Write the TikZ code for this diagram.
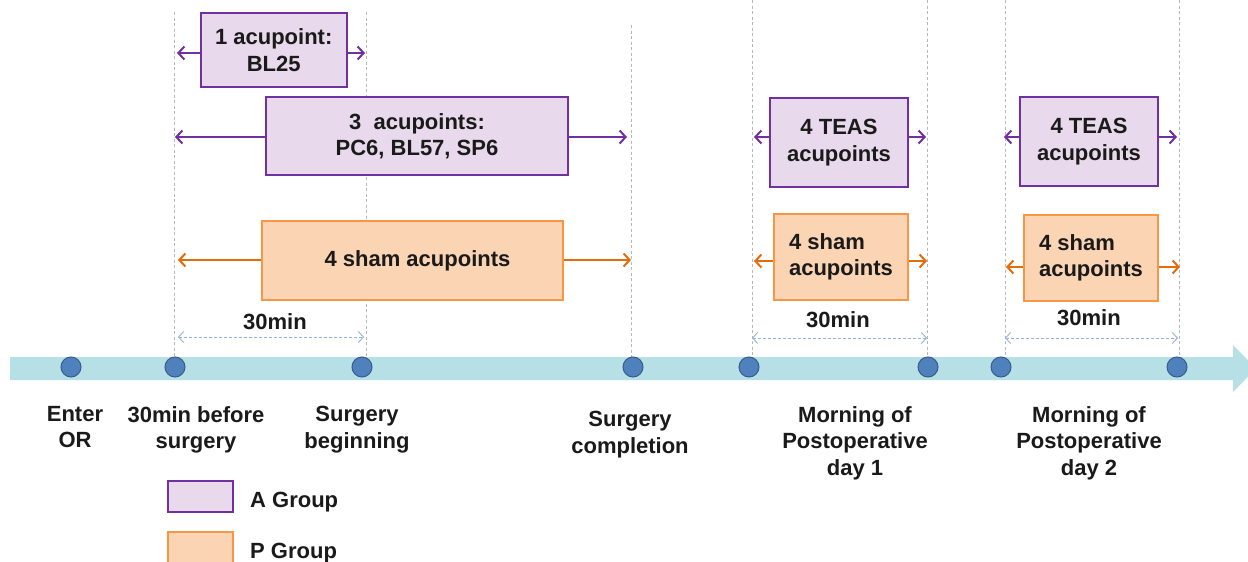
\documentclass[tikz,border=0pt]{standalone}
\usepackage{fontspec}
\setmainfont{Liberation Sans}
\usetikzlibrary{arrows.meta}
\definecolor{txt}{HTML}{1A1A1A}
\definecolor{purp}{HTML}{7030A0}
\definecolor{lav}{HTML}{E8DAEC}
\definecolor{orng}{HTML}{F79646}
\definecolor{orar}{HTML}{E46C0A}
\definecolor{peach}{HTML}{FBD4B4}
\definecolor{band}{HTML}{B6E0E6}
\definecolor{dotb}{HTML}{4F81BD}
\definecolor{dotd}{HTML}{385D8A}
\definecolor{durc}{HTML}{95B3D7}
\definecolor{vline}{HTML}{B8B8B8}
\tikzset{
  lbl/.style={font=\fontsize{22}{26.5}\selectfont\bfseries, text=txt, align=center, inner sep=0pt},
  abox/.style={lbl, draw=purp, fill=lav, line width=2.2pt},
  pbox/.style={lbl, draw=orng, fill=peach, line width=2.2pt},
  aarr/.style={draw=purp, line width=2pt, -{Straight Barb[length=6pt,width=13pt]}},
  parr/.style={draw=orar, line width=2pt, -{Straight Barb[length=6pt,width=13pt]}},
  durarr/.style={draw=durc, line width=0.9pt, dash pattern=on 3pt off 2pt, {Straight Barb[length=5pt,width=11pt]}-{Straight Barb[length=5pt,width=11pt]}},
  vl/.style={draw=vline, line width=0.9pt, dash pattern=on 3pt off 2.5pt},
  tdot/.style={circle, fill=dotb, draw=dotd, line width=1pt, minimum size=20pt, inner sep=0pt},
}
\begin{document}
\begin{tikzpicture}[x=1pt,y=-1pt]
\useasboundingbox (0,0) rectangle (1248,562);
\fill[white] (0,0) rectangle (1248,562);

% vertical dashed guide lines
\foreach \n/\x/\t in {v1/174/12, v2/366/12, v3/631/25, v4/752/0, v5/927/0, v6/1005/0, v7/1179/0}{
  \coordinate (\n t) at (\x,\t);
  \coordinate (\n b) at (\x,357);
  \draw[vl] (\n t) -- (\n b);
}

% timeline band
\fill[band] (10,357) -- (1233,357) -- (1233,345) -- (1256,368.5) -- (1233,392) -- (1233,380) -- (10,380) -- cycle;

% timeline dots
\foreach \n/\x in {d1/71, d2/175, d3/362, d4/633, d5/749, d6/928, d7/1001, d8/1177}{
  \node[tdot] (\n) at (\x,367) {};
}

% A group boxes
\node[abox, minimum width=146pt, minimum height=74pt] (b1) at (273.7,50) {1 acupoint:\\BL25};
\node[abox, minimum width=302pt, minimum height=78pt] (b3) at (417,136) {3\ \ acupoints:\\PC6, BL57, SP6};
\node[abox, minimum width=138pt, minimum height=89pt] (t1) at (839,142.5) {4 TEAS\\acupoints};
\node[abox, minimum width=138pt, minimum height=89pt] (t2) at (1089,141.5) {4 TEAS\\acupoints};

% P group boxes
\node[pbox, minimum width=301pt, minimum height=79pt] (s0) at (412.5,260.5) {\hspace*{10pt}4 sham acupoints};
\node[pbox, minimum width=134pt, minimum height=86pt, align=left] (s1) at (841,257) {4 sham\\acupoints};
\node[pbox, minimum width=134pt, minimum height=86pt, align=left] (s2) at (1091,258) {4 sham\\acupoints};

% arrow end coordinates
\coordinate (b1l) at (177,53);   \coordinate (b1r) at (365,53);
\coordinate (b3l) at (175,137);  \coordinate (b3r) at (627,137);
\coordinate (s0l) at (178,260);  \coordinate (s0r) at (631,260);
\coordinate (t1l) at (754,137);  \coordinate (t1r) at (926,137);
\coordinate (s1l) at (754,261);  \coordinate (s1r) at (927,261);
\coordinate (t2l) at (1004,137); \coordinate (t2r) at (1177,137);
\coordinate (s2l) at (1006,267); \coordinate (s2r) at (1180,267);

\draw[aarr] (b1.west |- b1l) -- (b1l);
\draw[aarr] (b1.east |- b1r) -- (b1r);
\draw[aarr] (b3.west |- b3l) -- (b3l);
\draw[aarr] (b3.east |- b3r) -- (b3r);
\draw[aarr] (t1.west |- t1l) -- (t1l);
\draw[aarr] (t1.east |- t1r) -- (t1r);
\draw[aarr] (t2.west |- t2l) -- (t2l);
\draw[aarr] (t2.east |- t2r) -- (t2r);
\draw[parr] (s0.west |- s0l) -- (s0l);
\draw[parr] (s0.east |- s0r) -- (s0r);
\draw[parr] (s1.west |- s1l) -- (s1l);
\draw[parr] (s1.east |- s1r) -- (s1r);
\draw[parr] (s2.west |- s2l) -- (s2l);
\draw[parr] (s2.east |- s2r) -- (s2r);

% 30min durations
\node[lbl, anchor=base] (m1) at (275,329) {30min};
\node[lbl, anchor=base] (m2) at (838,327) {30min};
\node[lbl, anchor=base] (m3) at (1089,325) {30min};
\coordinate (m1l) at (178,337); \coordinate (m1r) at (364,337);
\coordinate (m2l) at (752,338); \coordinate (m2r) at (927,338);
\coordinate (m3l) at (1005,338); \coordinate (m3r) at (1178,338);
\draw[durarr] (m1l) -- (m1r);
\draw[durarr] (m2l) -- (m2r);
\draw[durarr] (m3l) -- (m3r);

% timeline labels
\node[lbl, anchor=north] (l1) at (75,406) {Enter\\OR};
\node[lbl, anchor=north] (l2) at (196,406) {30min before\\surgery};
\node[lbl, anchor=north] (l3) at (357,406) {Surgery\\beginning};
\node[lbl, anchor=north] (l4) at (630,411) {Surgery\\completion};
\node[lbl, anchor=north] (l5) at (855,406) {Morning of\\Postoperative\\day 1};
\node[lbl, anchor=north] (l6) at (1089,406) {Morning of\\Postoperative\\day 2};

% legend
\node[abox, minimum width=65pt, minimum height=31pt, line width=2pt] (ga) at (200,496) {};
\node[pbox, minimum width=65pt, minimum height=31pt, line width=2pt] (gp) at (200,547) {};
\node[lbl, anchor=base west] (gat) at (250,507) {A Group};
\node[lbl, anchor=base west] (gpt) at (250,558) {P Group};
\end{tikzpicture}
\end{document}
